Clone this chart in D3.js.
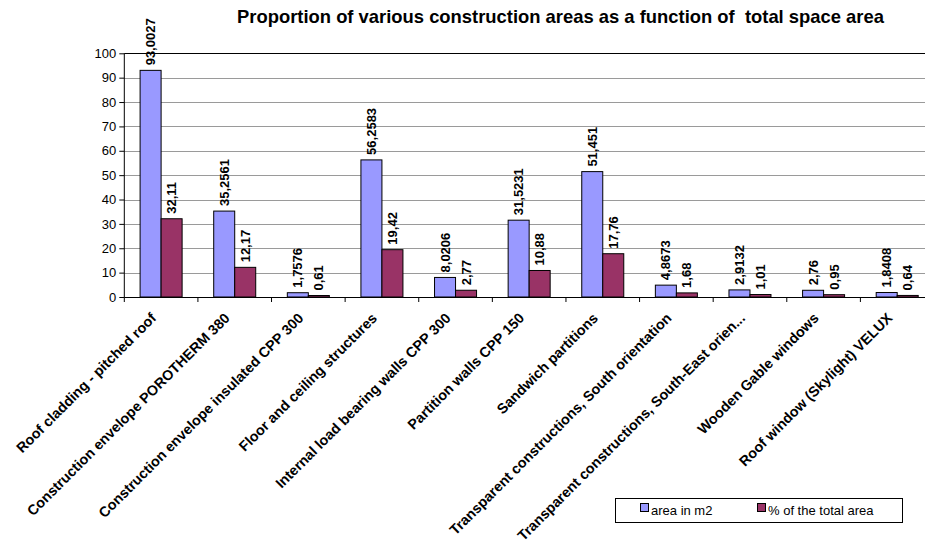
<!DOCTYPE html>
<html>
<head>
<meta charset="utf-8">
<script src="https://cdn.jsdelivr.net/npm/d3@7/dist/d3.min.js"></script>
<style>
  body { margin: 0; background: #fff; }
  svg { display: block; font-family: "Liberation Sans", Arial, sans-serif; }
</style>
</head>
<body>
<svg id="chart" width="925" height="547"></svg>
<script>
const categories = [
  "Roof cladding - pitched roof",
  "Construction envelope POROTHERM 380",
  "Construction envelope insulated CPP 300",
  "Floor and ceiling structures",
  "Internal load bearing walls CPP 300",
  "Partition walls CPP 150",
  "Sandwich partitions",
  "Transparent constructions, South orientation",
  "Transparent constructions, South-East orien...",
  "Wooden Gable windows",
  "Roof window (Skylight) VELUX"
];
const seriesNames = ["area in m2", "% of the total area"];
const areaValues = [93.0027, 35.2561, 1.7576, 56.2583, 8.0206, 31.5231, 51.451, 4.8673, 2.9132, 2.76, 1.8408];
const areaLabels = ["93,0027", "35,2561", "1,7576", "56,2583", "8,0206", "31,5231", "51,451", "4,8673", "2,9132", "2,76", "1,8408"];
const pctValues = [32.11, 12.17, 0.61, 19.42, 2.77, 10.88, 17.76, 1.68, 1.01, 0.95, 0.64];
const pctLabels = ["32,11", "12,17", "0,61", "19,42", "2,77", "10,88", "17,76", "1,68", "1,01", "0,95", "0,64"];
const yTicks = [0, 10, 20, 30, 40, 50, 60, 70, 80, 90, 100];
const title = "Proportion of various construction areas as a function of  total space area";

const colors = ["#9999FF", "#993366"];
const svg = d3.select("#chart");

const pLeft = 124.3, pRight = 934, pTop = 53.3, pBottom = 297;

const x0 = d3.scaleBand().domain(categories).range([pLeft, pRight]).padding(0);
const x1 = d3.scaleBand().domain(seriesNames).range([0, x0.bandwidth()]).paddingInner(0).paddingOuter(0.752);
const y = d3.scaleLinear().domain([0, 100]).range([pBottom, pTop]);

// Title
svg.append("text")
  .attr("x", 560.5).attr("y", 22.5)
  .attr("text-anchor", "middle")
  .attr("font-weight", "bold")
  .attr("font-size", 18.4)
  .style("white-space", "pre")
  .text(title);

// Gridlines
svg.append("g").selectAll("line")
  .data(yTicks.filter(d => d > 0))
  .join("line")
  .attr("x1", pLeft).attr("x2", pRight)
  .attr("y1", d => Math.round(y(d)) + 0.5).attr("y2", d => Math.round(y(d)) + 0.5)
  .attr("stroke", d => d === 100 ? "#000" : "#9a9a9a")
  .attr("stroke-width", 1);

// Y axis
const yAxis = d3.axisLeft(y).tickValues(yTicks).tickSize(5).tickPadding(3).tickFormat(d3.format("d"));
const gy = svg.append("g").attr("transform", `translate(${pLeft},0)`).call(yAxis);
gy.select(".domain").attr("d", `M0,${pTop}V${pBottom}`);
gy.selectAll("text").attr("font-size", 13).attr("font-family", "Liberation Sans, Arial, sans-serif").attr("fill", "#000");
gy.selectAll("line").attr("stroke", "#000");

// Bars
const data = categories.map((c, i) => ({
  cat: c,
  vals: [
    { s: seriesNames[0], v: areaValues[i], label: areaLabels[i], color: colors[0] },
    { s: seriesNames[1], v: pctValues[i], label: pctLabels[i], color: colors[1] }
  ]
}));

const groups = svg.append("g").selectAll("g")
  .data(data).join("g")
  .attr("transform", d => `translate(${x0(d.cat)},0)`);

groups.selectAll("rect")
  .data(d => d.vals).join("rect")
  .attr("x", d => x1(d.s))
  .attr("y", d => y(d.v))
  .attr("width", x1.bandwidth())
  .attr("height", d => y(0) - y(d.v))
  .attr("fill", d => d.color)
  .attr("stroke", "#000")
  .attr("stroke-width", 1);

groups.selectAll("text.dl")
  .data(d => d.vals).join("text")
  .attr("class", "dl")
  .attr("transform", d => `translate(${x1(d.s) + x1.bandwidth() / 2},${y(d.v) - 5}) rotate(-90)`)
  .attr("dy", "0.35em")
  .attr("font-size", 13)
  .attr("font-weight", "bold")
  .text(d => d.label);

// X axis
const xAxis = d3.axisBottom(x0).tickSize(0).tickFormat("");
const gx = svg.append("g").attr("transform", `translate(0,${pBottom})`).call(xAxis);
gx.select(".domain").attr("d", `M${pLeft},0.5H${pRight}`).attr("stroke", "#000");
gx.append("g").selectAll("line")
  .data(categories.concat(["_end"]))
  .join("line")
  .attr("x1", (d, i) => pLeft + i * x0.step())
  .attr("x2", (d, i) => pLeft + i * x0.step())
  .attr("y1", 0).attr("y2", 5)
  .attr("stroke", "#000");

// Category labels
svg.append("g").selectAll("text")
  .data(categories).join("text")
  .attr("transform", d => `translate(${x0(d) + x0.bandwidth() / 2 - 4},${pBottom + 22}) rotate(-45)`)
  .attr("text-anchor", "end")
  .attr("font-size", 14.3)
  .attr("font-weight", "bold")
  .text(d => d);

// Legend
const lg = svg.append("g");
lg.append("rect").attr("x", 615.5).attr("y", 498.5).attr("width", 287).attr("height", 24)
  .attr("fill", "#fff").attr("stroke", "#000");
const legendX = [640, 757];
seriesNames.forEach((s, i) => {
  lg.append("rect").attr("x", legendX[i] + 0.5).attr("y", 503.5).attr("width", 8).attr("height", 8)
    .attr("fill", colors[i]).attr("stroke", "#000");
  lg.append("text").attr("x", legendX[i] + 11).attr("y", 515)
    .attr("font-size", 13).text(s);
});
</script>
</body>
</html>
